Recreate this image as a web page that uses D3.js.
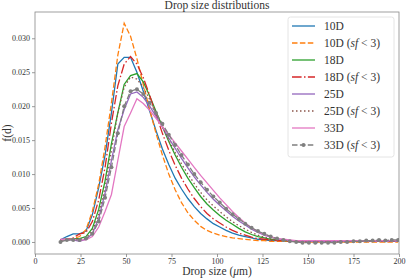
<!DOCTYPE html>
<html>
<head>
<meta charset="utf-8">
<script src="https://cdn.jsdelivr.net/npm/d3@7"></script>
<style>
  body { margin: 0; background: #fff; }
  svg text { font-family: "Liberation Serif", "DejaVu Serif", serif; fill: #333; }
</style>
</head>
<body>
<div id="chart"></div>
<script>
// drop diameter bins (micrometres)
var dropSize = [14, 17.5, 21, 24.5, 28, 31.5, 35, 38.5, 42, 45.5, 49, 52.5, 56, 59.5, 63, 66.5, 70, 73.5, 77, 80.5,
  84, 87.5, 91, 94.5, 98, 101.5, 105, 108.5, 112, 115.5, 119, 122.5, 126, 129.5, 133, 136.5, 140, 143.5, 147, 150.5,
  154, 157.5, 161, 164.5, 168, 171.5, 175, 178.5, 182, 185.5, 189, 192.5, 196, 199.5];

var f10 = [0.0003, 0.0008, 0.0012, 0.0012, 0.0016, 0.0040, 0.0080, 0.0128, 0.0190, 0.0262, 0.0272, 0.0272, 0.0250, 0.0222, 0.0193, 0.0164, 0.0137, 0.0114, 0.0094, 0.0078,
  0.0064, 0.0052, 0.0042, 0.0034, 0.0027, 0.0022, 0.0017, 0.0013, 0.0010, 0.0008, 0.0006, 0.0004, 0.0003, 0.0002, 0.0002, 0.0002, 0.0001, 0.0001, 0.0001, 0.0001,
  0.0001, 0.0001, 0.0001, 0.0001, 0.0001, 0.0001, 0.0001, 0.0001, 0.0001, 0.0001, 0.0001, 0.0001, 0.0001, 0.0001];
var f10sf = [0.0003, 0.0004, 0.0005, 0.0008, 0.0018, 0.0045, 0.0085, 0.0140, 0.0205, 0.0275, 0.0322, 0.0303, 0.0270, 0.0232, 0.0195, 0.0160, 0.0128, 0.0100, 0.0077, 0.0058,
  0.0043, 0.0032, 0.0023, 0.0017, 0.0013, 0.0010, 0.0008, 0.0006, 0.0005, 0.0004, 0.0003, 0.0002, 0.0002, 0.0001, 0.0001, 0.0001, 0.0001, 0.0001, 0.0000, 0.0000,
  0.0000, 0.0000, 0.0000, 0.0000, 0.0000, 0.0000, 0.0000, 0.0000, 0.0000, 0.0000, 0.0000, 0.0000, 0.0000, 0.0000];
var f18 = [0.0003, 0.0004, 0.0005, 0.0005, 0.0008, 0.0020, 0.0048, 0.0090, 0.0145, 0.0190, 0.0232, 0.0245, 0.0248, 0.0236, 0.0215, 0.0192, 0.0170, 0.0148, 0.0128, 0.0110,
  0.0094, 0.0080, 0.0067, 0.0056, 0.0047, 0.0039, 0.0032, 0.0026, 0.0020, 0.0015, 0.0011, 0.0008, 0.0006, 0.0004, 0.0003, 0.0002, 0.0002, 0.0001, 0.0001, 0.0001,
  0.0001, 0.0001, 0.0001, 0.0001, 0.0001, 0.0001, 0.0001, 0.0001, 0.0001, 0.0001, 0.0001, 0.0001, 0.0001, 0.0001];
var f18sf = [0.0003, 0.0004, 0.0006, 0.0012, 0.0014, 0.0030, 0.0062, 0.0110, 0.0175, 0.0230, 0.0262, 0.0273, 0.0262, 0.0242, 0.0216, 0.0188, 0.0160, 0.0135, 0.0113, 0.0094,
  0.0078, 0.0064, 0.0052, 0.0042, 0.0034, 0.0028, 0.0022, 0.0017, 0.0013, 0.0010, 0.0007, 0.0005, 0.0004, 0.0003, 0.0002, 0.0002, 0.0001, 0.0001, 0.0001, 0.0001,
  0.0001, 0.0001, 0.0001, 0.0001, 0.0001, 0.0001, 0.0001, 0.0001, 0.0001, 0.0001, 0.0001, 0.0001, 0.0001, 0.0001];
var f25 = [0.0003, 0.0003, 0.0003, 0.0001, 0.0004, 0.0012, 0.0035, 0.0072, 0.0120, 0.0165, 0.0195, 0.0218, 0.0221, 0.0213, 0.0200, 0.0185, 0.0169, 0.0153, 0.0138, 0.0123,
  0.0109, 0.0096, 0.0084, 0.0073, 0.0063, 0.0054, 0.0046, 0.0038, 0.0031, 0.0025, 0.0019, 0.0014, 0.0010, 0.0007, 0.0005, 0.0003, 0.0002, 0.0002, 0.0001, 0.0001,
  0.0001, 0.0001, 0.0001, 0.0001, 0.0001, 0.0001, 0.0001, 0.0001, 0.0001, 0.0001, 0.0001, 0.0001, 0.0001, 0.0001];
var f25sf = [0.0003, 0.0003, 0.0004, 0.0004, 0.0006, 0.0016, 0.0040, 0.0080, 0.0135, 0.0190, 0.0228, 0.0243, 0.0240, 0.0228, 0.0210, 0.0190, 0.0170, 0.0150, 0.0132, 0.0115,
  0.0100, 0.0086, 0.0073, 0.0062, 0.0053, 0.0045, 0.0037, 0.0030, 0.0024, 0.0019, 0.0014, 0.0010, 0.0007, 0.0005, 0.0003, 0.0002, 0.0002, 0.0001, 0.0001, 0.0001,
  0.0001, 0.0001, 0.0001, 0.0001, 0.0001, 0.0001, 0.0001, 0.0001, 0.0001, 0.0001, 0.0001, 0.0001, 0.0001, 0.0001];
var f33 = [0.0004, 0.0004, 0.0004, 0.0003, 0.0003, 0.0008, 0.0022, 0.0045, 0.0070, 0.0120, 0.0170, 0.0190, 0.0211, 0.0204, 0.0194, 0.0182, 0.0170, 0.0158, 0.0146, 0.0134,
  0.0122, 0.0110, 0.0098, 0.0087, 0.0076, 0.0065, 0.0055, 0.0045, 0.0036, 0.0028, 0.0021, 0.0015, 0.0011, 0.0008, 0.0005, 0.0004, 0.0003, 0.0002, 0.0002, 0.0002,
  0.0002, 0.0002, 0.0002, 0.0002, 0.0002, 0.0002, 0.0002, 0.0002, 0.0002, 0.0002, 0.0002, 0.0002, 0.0002, 0.0002];
var f33sf = [0.0000, 0.0003, 0.0003, 0.0003, 0.0005, 0.0012, 0.0030, 0.0065, 0.0110, 0.0160, 0.0200, 0.0222, 0.0225, 0.0218, 0.0205, 0.0190, 0.0174, 0.0158, 0.0143, 0.0128,
  0.0114, 0.0100, 0.0088, 0.0077, 0.0067, 0.0058, 0.0049, 0.0041, 0.0034, 0.0027, 0.0021, 0.0016, 0.0012, 0.0008, 0.0005, 0.0003, 0.0001, 0.0000, -0.0001, -0.0001,
  -0.0001, -0.0001, -0.0001, -0.0001, 0.0000, 0.0000, 0.0001, 0.0001, 0.0002, 0.0002, 0.0003, 0.0002, 0.0003, 0.0003];

var seriesNames = ["10D", "10D", "18D", "18D", "25D", "25D", "33D", "33D"];
var seriesSf = [false, true, false, true, false, true, false, true];
var seriesValues = [f10, f10sf, f18, f18sf, f25, f25sf, f33, f33sf];
var seriesColors = ["#1f77b4", "#ff7f0e", "#2ca02c", "#d62728", "#9467bd", "#8c564b", "#e377c2", "#7f7f7f"];
var seriesDash = [null, "5.5,2.4", null, "9.6,2.4,1.5,2.4", null, "1.5,2.5", null, "5.5,2.4"];

var xTicks = [0, 25, 50, 75, 100, 125, 150, 175, 200];
var yTicks = [0, 0.005, 0.010, 0.015, 0.020, 0.025, 0.030];

var width = 407, height = 279;
var margin = {top: 12, right: 8, bottom: 25, left: 35};

var svg = d3.select("#chart").append("svg")
    .attr("width", width)
    .attr("height", height);

var x = d3.scaleLinear().domain([0, 200]).range([margin.left, width - margin.right]);
var y = d3.scaleLinear().domain([-0.00177, 0.03387]).range([height - margin.bottom, margin.top]);

// axes
var xAxis = svg.append("g")
    .attr("transform", "translate(0," + (height - margin.bottom) + ")")
    .call(d3.axisBottom(x).tickValues(xTicks).tickSize(3).tickPadding(1.5).tickFormat(d3.format("d")));
var yAxis = svg.append("g")
    .attr("transform", "translate(" + margin.left + ",0)")
    .call(d3.axisLeft(y).tickValues(yTicks).tickSize(3).tickPadding(2).tickFormat(d3.format(".3f")));

[xAxis, yAxis].forEach(function(a) {
  a.select(".domain").remove();
  a.selectAll(".tick line").attr("stroke", "#555").attr("stroke-width", 0.6);
  a.selectAll(".tick text").attr("font-size", 8).attr("fill", "#444")
    .attr("font-family", "Liberation Serif, serif");
});

// frame
svg.append("rect")
    .attr("x", margin.left).attr("y", margin.top)
    .attr("width", width - margin.left - margin.right)
    .attr("height", height - margin.top - margin.bottom)
    .attr("fill", "none").attr("stroke", "#888").attr("stroke-width", 0.8);

svg.append("clipPath").attr("id", "plotclip")
  .append("rect")
    .attr("x", margin.left).attr("y", margin.top)
    .attr("width", width - margin.left - margin.right)
    .attr("height", height - margin.top - margin.bottom);

var line = d3.line()
    .x(function(d, i) { return x(dropSize[i]); })
    .y(function(d) { return y(d); });

var plot = svg.append("g").attr("clip-path", "url(#plotclip)");

seriesValues.forEach(function(vals, k) {
  plot.append("path")
      .datum(vals)
      .attr("fill", "none")
      .attr("stroke", seriesColors[k])
      .attr("stroke-width", 1.3)
      .attr("stroke-dasharray", seriesDash[k])
      .attr("d", line);
});

// markers on the last series
plot.selectAll("circle.mk")
    .data(f33sf)
  .enter().append("circle")
    .attr("class", "mk")
    .attr("cx", function(d, i) { return x(dropSize[i]); })
    .attr("cy", function(d) { return y(d); })
    .attr("r", 2)
    .attr("fill", "#7f7f7f");

// title and labels
svg.append("text")
    .attr("x", (margin.left + width - margin.right) / 2)
    .attr("y", 9)
    .attr("text-anchor", "middle")
    .attr("font-size", 11.5)
    .text("Drop size distributions");

var xl = svg.append("text")
    .attr("x", (margin.left + width - margin.right) / 2)
    .attr("y", 275)
    .attr("text-anchor", "middle")
    .attr("font-size", 11.5);
xl.append("tspan").text("Drop size (");
xl.append("tspan").attr("font-style", "italic").text("μ");
xl.append("tspan").text("m)");

svg.append("text")
    .attr("transform", "translate(11," + ((margin.top + height - margin.bottom) / 2) + ") rotate(-90)")
    .attr("text-anchor", "middle")
    .attr("font-size", 11.5)
    .text("f(d)");

// legend
var lg = svg.append("g").attr("transform", "translate(288,17)");
lg.append("rect")
    .attr("width", 106).attr("height", 140)
    .attr("rx", 2.5)
    .attr("fill", "#fff").attr("fill-opacity", 0.8)
    .attr("stroke", "#ddd").attr("stroke-width", 0.8);

seriesNames.forEach(function(name, k) {
  var row = lg.append("g").attr("transform", "translate(0," + (9 + k * 17) + ")");
  row.append("line")
      .attr("x1", 4).attr("x2", 27)
      .attr("stroke", seriesColors[k])
      .attr("stroke-width", 1.3)
      .attr("stroke-dasharray", seriesDash[k]);
  if (k === 7) {
    row.append("circle").attr("cx", 15.5).attr("r", 2).attr("fill", seriesColors[k]);
  }
  var t = row.append("text").attr("x", 36).attr("y", 4).attr("font-size", 11.5);
  t.append("tspan").text(name);
  if (seriesSf[k]) {
    t.append("tspan").text(" (");
    t.append("tspan").attr("font-style", "italic").text("sf");
    t.append("tspan").text(" < 3)");
  }
});
</script>
</body>
</html>
